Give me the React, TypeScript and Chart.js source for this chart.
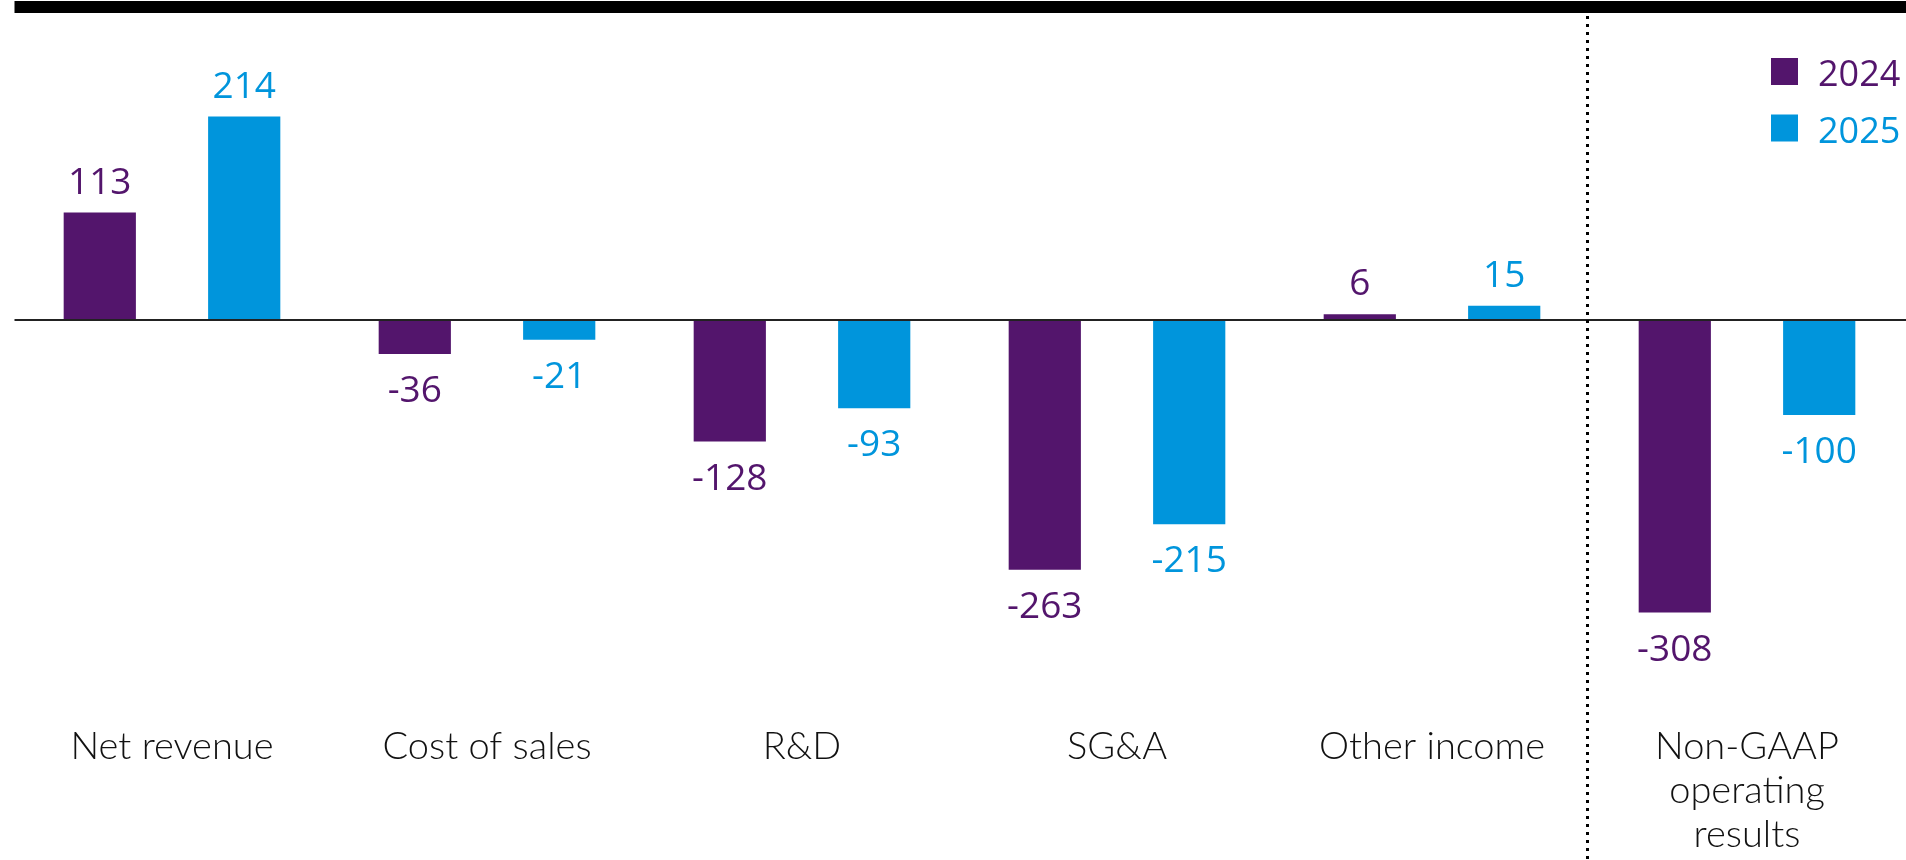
import React, { useEffect, useRef } from 'react';
import { Chart, registerables } from 'chart.js';

Chart.register(...registerables);

const categories: (string | string[])[] = [
  'Net revenue',
  'Cost of sales',
  'R&D',
  'SG&A',
  'Other income',
  ['Non-GAAP', 'operating', 'results'],
];
const seriesNames = ['2024', '2025'];
const values2024 = [113, -36, -128, -263, 6, -308];
const values2025 = [214, -21, -93, -215, 15, -100];
const seriesColors = ['#53156C', '#0095DC'];

const decorPlugin = {
  id: 'decor',
  beforeDraw(chart: any) {
    const { ctx, chartArea, width } = chart;
    ctx.save();
    ctx.fillStyle = '#000';
    ctx.fillRect(chartArea.left, 1, width - chartArea.left, 12);
    ctx.restore();
  },
  afterDatasetsDraw(chart: any) {
    const { ctx, chartArea, width, height, scales } = chart;
    const y0 = scales.y.getPixelForValue(0);
    ctx.save();
    // zero line
    ctx.strokeStyle = '#222';
    ctx.lineWidth = 2;
    ctx.beginPath();
    ctx.moveTo(chartArea.left, y0);
    ctx.lineTo(width, y0);
    ctx.stroke();
    // dotted separator
    const xs = scales.x;
    const xd = Math.round((xs.getPixelForValue(4) + xs.getPixelForValue(5)) / 2 - 2.5) + 0.5;
    ctx.setLineDash([3, 5]);
    ctx.lineWidth = 3;
    ctx.strokeStyle = '#000';
    ctx.beginPath();
    ctx.moveTo(xd, 16);
    ctx.lineTo(xd, height);
    ctx.stroke();
    ctx.setLineDash([]);
    // value labels
    ctx.font = '37px "Open Sans"';
    ctx.textAlign = 'center';
    ctx.textBaseline = 'alphabetic';
    chart.data.datasets.forEach((ds: any, i: number) => {
      const meta = chart.getDatasetMeta(i);
      ctx.fillStyle = ds.backgroundColor;
      meta.data.forEach((el: any, j: number) => {
        const v = ds.data[j];
        const y = v >= 0 ? el.y - 19 : el.y + 48;
        ctx.fillText(String(v), el.x, y);
      });
    });
    // legend
    const sq = 27;
    const sx = chartArea.right - 133.5;
    ctx.font = '36px "Open Sans"';
    ctx.textAlign = 'left';
    chart.data.datasets.forEach((ds: any, i: number) => {
      const top = 58 + i * 56.5;
      ctx.fillStyle = ds.backgroundColor;
      ctx.fillRect(sx, top, sq, sq);
      ctx.fillText(ds.label, sx + 47, top + 28);
    });
    ctx.restore();
  },
};

export default function App() {
  const ref = useRef<HTMLCanvasElement | null>(null);
  useEffect(() => {
    document.body.style.margin = '0';
    let chart: Chart | null = null;
    let cancelled = false;
    const make = () => {
      if (cancelled || !ref.current) return;
      chart = new Chart(ref.current, {
        type: 'bar',
        data: {
          labels: categories,
          datasets: [
            {
              label: seriesNames[0],
              data: values2024,
              backgroundColor: seriesColors[0],
              categoryPercentage: 0.917,
              barPercentage: 0.5,
            },
            {
              label: seriesNames[1],
              data: values2025,
              backgroundColor: seriesColors[1],
              categoryPercentage: 0.917,
              barPercentage: 0.5,
            },
          ],
        },
        options: {
          responsive: false,
          animation: false,
          layout: { padding: { left: 14.5, right: 1.5, top: 14, bottom: 0 } },
          scales: {
            x: {
              grid: { display: false, drawTicks: false },
              border: { display: false },
              ticks: {
                color: '#111',
                font: { family: 'Lato', weight: '300', size: 38, lineHeight: 1.16 },
                padding: 3,
                maxRotation: 0,
                autoSkip: false,
              },
            },
            y: { display: false, min: -423, max: 322 },
          },
          plugins: { legend: { display: false }, tooltip: { enabled: false } },
        },
        plugins: [decorPlugin],
      });
    };
    const fontsAny: any = (document as any).fonts;
    if (fontsAny && fontsAny.load) {
      Promise.all([
        fontsAny.load('300 38px Lato'),
        fontsAny.load('36px "Open Sans"'),
      ]).then(make, make);
    } else {
      make();
    }
    return () => {
      cancelled = true;
      if (chart) chart.destroy();
    };
  }, []);
  return (
    <div style={{ width: 1906, height: 860 }}>
      <canvas ref={ref} width={1906} height={860} />
    </div>
  );
}
